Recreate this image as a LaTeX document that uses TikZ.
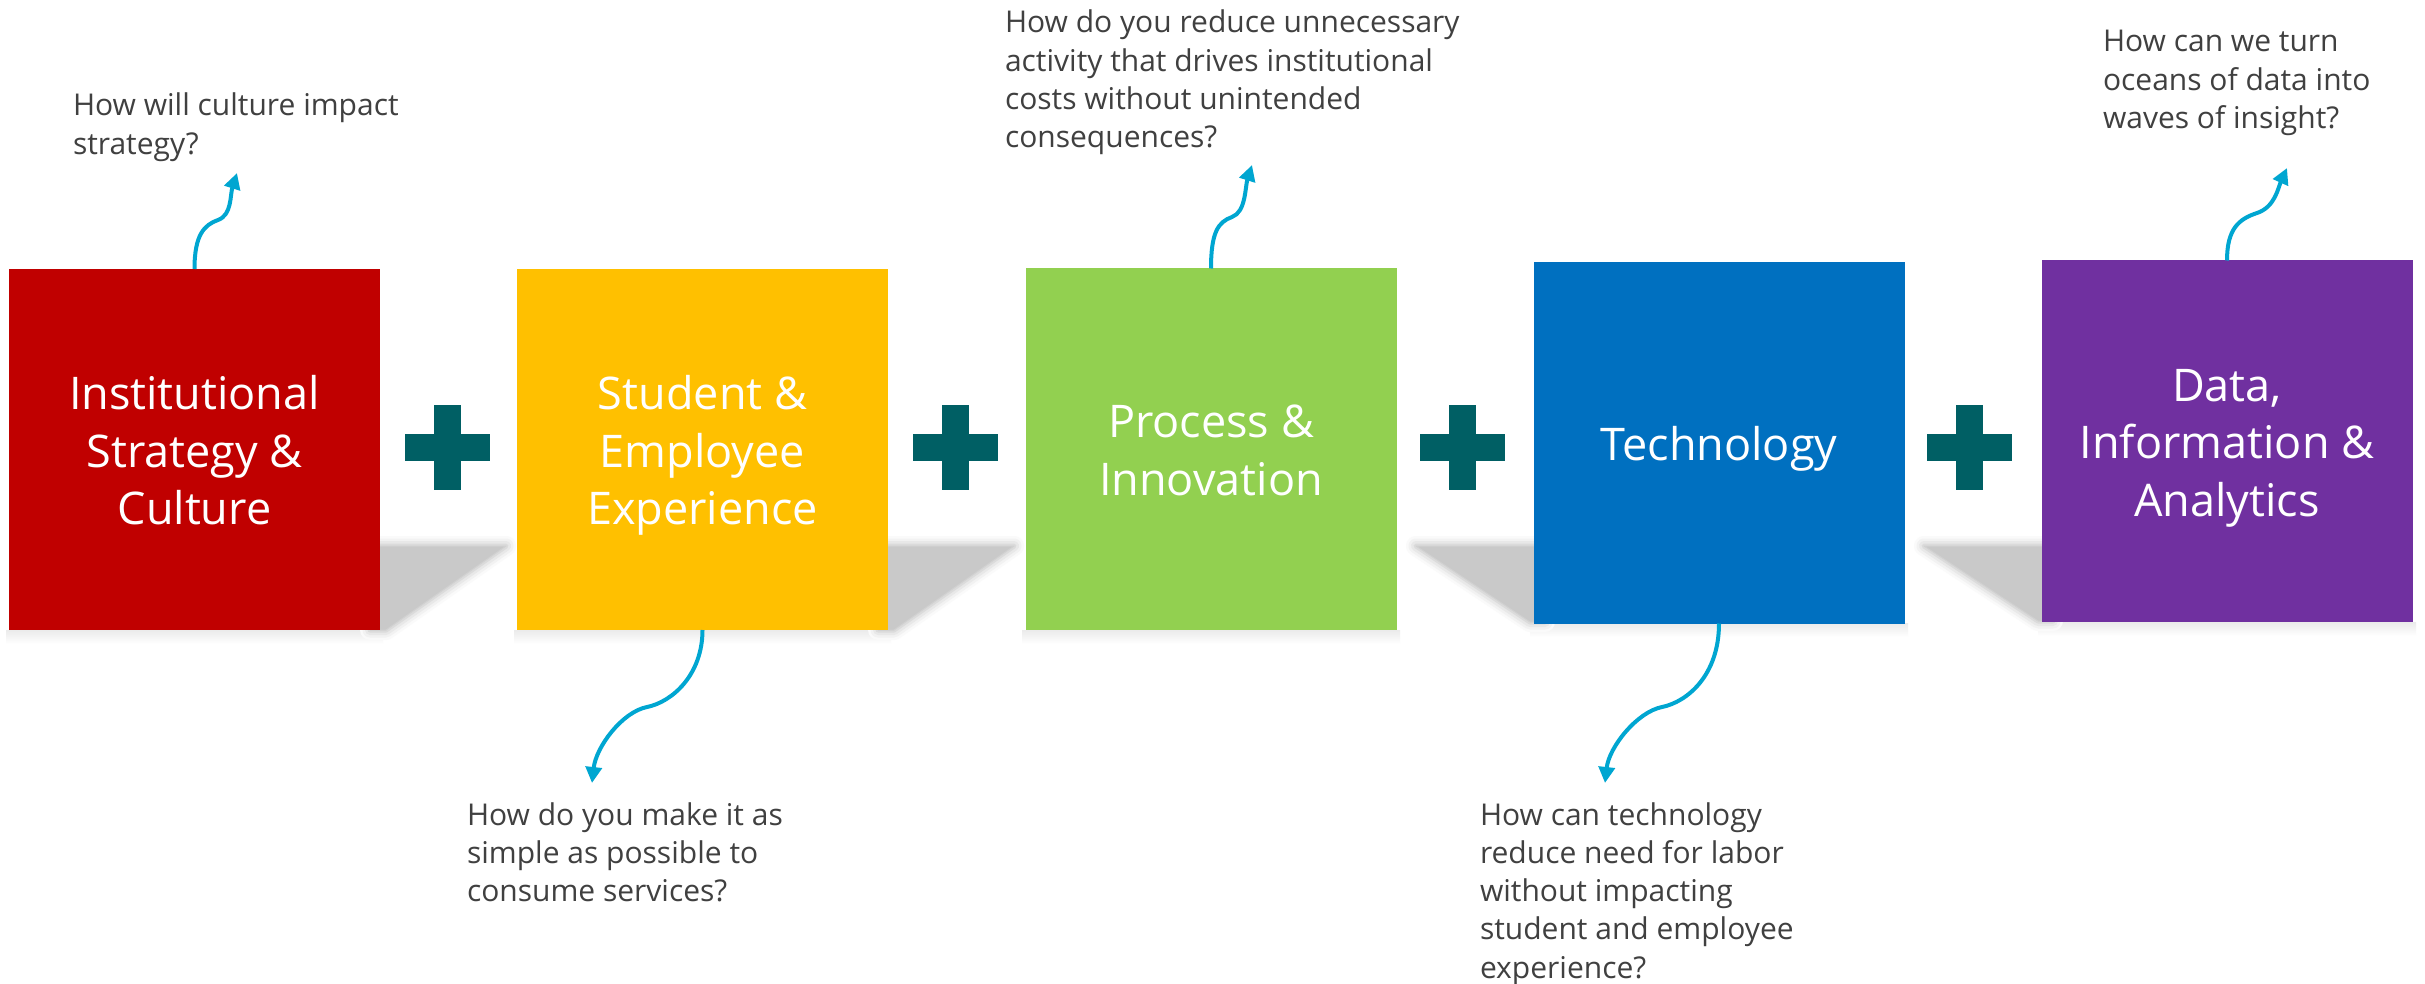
\documentclass[tikz,border=0pt]{standalone}
\usepackage{fontspec}
\setmainfont{Open Sans}
\usetikzlibrary{arrows.meta}
\definecolor{cred}{HTML}{C00000}
\definecolor{cyellow}{HTML}{FFC000}
\definecolor{cgreen}{HTML}{92D050}
\definecolor{cblue}{HTML}{0070C0}
\definecolor{cpurple}{HTML}{7030A0}
\definecolor{cplus}{HTML}{005F64}
\definecolor{carrow}{HTML}{00A6D1}
\definecolor{ctext}{HTML}{404040}
\newcommand{\boxstrut}{\rule[-11pt]{0pt}{57pt}}
\newcommand{\qstrut}{\rule[-9pt]{0pt}{38.3pt}}
\newcommand{\plussign}[2]{%
  \fill[cplus] (#1-42.5,#2-13.5) rectangle (#1+42.5,#2+13.5);
  \fill[cplus] (#1-13.5,#2-42.5) rectangle (#1+13.5,#2+42.5);}
\newcommand{\sideshadow}[1]{%
  \filldraw[line width=20pt,draw=black!2,fill=black!2,line join=round] #1 -- cycle;
  \filldraw[line width=15pt,draw=black!5,fill=black!5,line join=round] #1 -- cycle;
  \filldraw[line width=10pt,draw=black!9,fill=black!9,line join=round] #1 -- cycle;
  \filldraw[line width=5pt,draw=black!14,fill=black!14,line join=round] #1 -- cycle;
  \filldraw[line width=1pt,draw=black!18,fill=black!21,line join=round] #1 -- cycle;}
\newcommand{\bottomshade}[3]{%
  \shade[top color=black!8,bottom color=white] (#1-3,#3) rectangle (#2+3,#3+14);}
\begin{document}
\begin{tikzpicture}[x=1pt,y=-1pt,
  box/.style={minimum width=371pt,minimum height=361pt,inner sep=0pt,outer sep=0pt,
    text=white,align=center,font=\fontsize{45}{57.5}\selectfont},
  question/.style={anchor=north west,inner sep=0pt,outer sep=0pt,align=left,
    text=ctext,font=\fontsize{30}{38.3}\selectfont},
  qarrow/.style={draw=carrow,line width=4pt,-{Triangle[length=16pt,width=16pt]}},
]
\useasboundingbox (0,0) rectangle (2425,984);
\fill[white] (0,0) rectangle (2425,984);

% soft shadows under boxes
\bottomshade{9}{380}{630}
\bottomshade{517}{888}{630}
\bottomshade{1025}{1397}{630}
\bottomshade{1533}{1905}{623}
\bottomshade{2041}{2413}{622}

% cast shadows
\sideshadow{(370,546) -- (506,546) -- (386,630) -- (370,630)}
\sideshadow{(878,546) -- (1014,546) -- (894,630) -- (878,630)}
\sideshadow{(1545,546) -- (1416,546) -- (1530,622) -- (1545,622)}
\sideshadow{(2053,546) -- (1924,546) -- (2038,621) -- (2053,621)}

% boxes
\node[box,fill=cred]    (b1) at (194.5,449.5) {\boxstrut Institutional\\\boxstrut Strategy \&\\\boxstrut Culture};
\node[box,fill=cyellow] (b2) at (702.5,449.5) {\boxstrut Student \&\\\boxstrut Employee\\\boxstrut Experience};
\node[box,fill=cgreen]  (b3) at (1211,449)    {\boxstrut Process \&\\\boxstrut Innovation};
\node[box,fill=cblue]   (b4) at (1719,443)    {\boxstrut Technology};
\node[box,fill=cpurple] (b5) at (2227,441)    {\boxstrut Data,\\\boxstrut Information \&\\\boxstrut Analytics};

% plus signs
\plussign{447}{447.5}
\plussign{955}{447.5}
\plussign{1462}{447.5}
\plussign{1969}{447.5}

% questions
\node[question] (q1) at (73,86.7)    {\qstrut How will culture impact\\\qstrut strategy?};
\node[question] (q2) at (467,795.7)  {\qstrut How do you make it as\\\qstrut simple as possible to\\\qstrut consume services?};
\node[question] (q3) at (1005,3.7)   {\qstrut How do you reduce unnecessary\\\qstrut activity that drives institutional\\\qstrut costs without unintended\\\qstrut consequences?};
\node[question] (q4) at (1480,795.7) {\qstrut How can technology\\\qstrut reduce need for labor\\\qstrut without impacting\\\qstrut student and employee\\\qstrut experience?};
\node[question] (q5) at (2103,22.7)  {\qstrut How can we turn\\\qstrut oceans of data into\\\qstrut waves of insight?};

% arrow points
\coordinate (m1) at (218,220);  \coordinate (t1) at (237,173);
\coordinate (m2) at (647,707);  \coordinate (t2) at (592,783);
\coordinate (m3) at (1232,217); \coordinate (t3) at (1252,165);
\coordinate (m4) at (1662,707); \coordinate (t4) at (1605,783);
\coordinate (m5) at (2257,213); \coordinate (t5) at (2287,168);

\draw[qarrow] (b1.north) .. controls +(0,-34) and +(-14,5) .. (m1) .. controls +(14,-5) and +(-7,22) .. (t1);
\draw[qarrow] (b3.north) .. controls +(0,-36) and +(-14,5) .. (m3) .. controls +(14,-5) and +(-7,22) .. (t3);
\draw[qarrow] (b5.north) .. controls +(0,-32) and +(-18,6) .. (m5) .. controls +(18,-6) and +(-9,20) .. (t5);
\draw[qarrow] (b2.south) .. controls +(0,45) and +(25,-5) .. (m2) .. controls +(-25,5) and +(4,-36) .. (t2);
\draw[qarrow] (b4.south) .. controls +(0,52) and +(25,-5) .. (m4) .. controls +(-25,5) and +(4,-36) .. (t4);
\end{tikzpicture}
\end{document}
